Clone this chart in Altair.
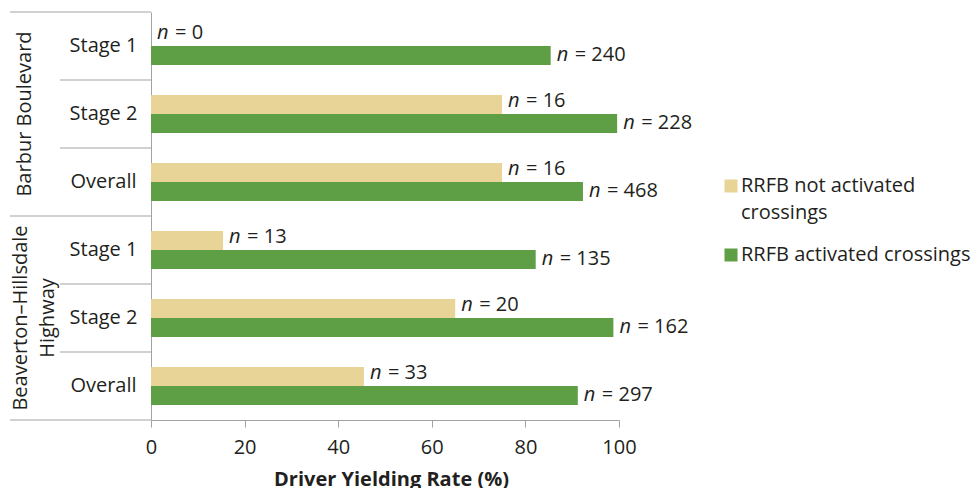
import altair as alt
import pandas as pd

# ---- data ----
groups = ["Barbur Boulevard", "Barbur Boulevard", "Barbur Boulevard",
          "Beaverton–Hillsdale Highway", "Beaverton–Hillsdale Highway", "Beaverton–Hillsdale Highway"]
stages = ["Stage 1", "Stage 2", "Overall", "Stage 1", "Stage 2", "Overall"]
series = ["RRFB not activated crossings", "RRFB activated crossings"]
not_activated = [0, 75, 75, 15.4, 65, 45.5]
activated = [85.4, 99.6, 92.3, 82.2, 98.8, 91.2]
n_not = [0, 16, 16, 13, 20, 33]
n_act = [240, 228, 468, 135, 162, 297]
group_labels = [["Barbur Boulevard"], ["Beaverton–Hillsdale", "Highway"]]
x_ticks = [0, 20, 40, 60, 80, 100]

TAN = "#e8d496"
GREEN = "#5e9f45"
GRID = "#a3a3a3"
TXT = "#231f20"
FONT = "Open Sans"
FS = 20

rows = [f"{g}|{s}" for g, s in zip(groups, stages)]

recs = []
for i, r in enumerate(rows):
    recs.append({"row": r, "series": series[0], "value": not_activated[i], "lab": f"= {n_not[i]}"})
    recs.append({"row": r, "series": series[1], "value": activated[i], "lab": f"= {n_act[i]}"})
df = pd.DataFrame(recs)

y_enc = alt.Y("row:N", sort=rows, title=None,
              scale=alt.Scale(paddingInner=0, paddingOuter=0),
              axis=alt.Axis(labelExpr="split(datum.value, '|')[1]", ticks=False,
                            domainColor=GRID, labelFont=FONT, labelFontSize=FS,
                            labelColor=TXT, labelAlign="center", labelPadding=48))
yoff = alt.YOffset("series:N", sort=series,
                   scale=alt.Scale(paddingInner=0, paddingOuter=0.789))
x_enc = alt.X("value:Q", title="Driver Yielding Rate (%)",
              scale=alt.Scale(domain=[0, 100], nice=False),
              axis=alt.Axis(values=x_ticks, grid=False, tickSize=7, tickColor=GRID,
                            domainColor=GRID, labelFont=FONT, labelFontSize=FS,
                            labelColor=TXT, labelPadding=10, labelFlush=False,
                            titleFont=FONT, titleFontSize=FS, titleFontWeight="bold",
                            titleColor=TXT, titlePadding=12, titleX=240))

base = alt.Chart(df)
bars = base.mark_bar().encode(
    x=x_enc, y=y_enc, yOffset=yoff,
    color=alt.Color("series:N", sort=series,
                    scale=alt.Scale(domain=series, range=[TAN, GREEN]),
                    legend=alt.Legend(title=None, orient="none", legendX=570, legendY=164,
                                      symbolType="square", symbolSize=169,
                                      symbolStrokeWidth=0, labelFont=FONT,
                                      labelFontSize=FS, labelColor=TXT, labelOffset=0,
                                      labelLimit=400, rowPadding=22, padding=0,
                                      labelExpr="datum.label == 'RRFB not activated crossings' ? ['RRFB not activated', 'crossings'] : datum.label")),
)

def labels(s, dy):
    common = dict(align="left", baseline="middle", font=FONT, fontSize=FS, color=TXT, dy=dy)
    b = base.transform_filter(alt.datum.series == s)
    enc = dict(x="value:Q", y=alt.Y("row:N", sort=rows),
               yOffset=alt.YOffset("series:N", sort=series))
    n_txt = b.mark_text(dx=6, fontStyle="italic", **common).encode(text=alt.value("n"), **enc)
    eq_txt = b.mark_text(dx=24, **common).encode(text="lab:N", **enc)
    return [n_txt, eq_txt]

txt_layers = labels(series[0], -3) + labels(series[1], -1)

# separator lines of the category axis
long_top = pd.DataFrame({"row": [rows[0], rows[3]]})
long_bot = pd.DataFrame({"row": [rows[5]]})
short_top = pd.DataFrame({"row": [rows[1], rows[2], rows[4], rows[5]]})

def sep(data, x0, band):
    return alt.Chart(data).mark_rule(color=GRID, strokeWidth=1).encode(
        y=alt.Y("row:N", sort=rows, bandPosition=band),
        x=alt.value(x0), x2=alt.value(0))

seps = [sep(long_top, -141, 0), sep(long_bot, -141, 1), sep(short_top, -91, 0)]

# group labels (rotated)
g1 = alt.Chart(pd.DataFrame({"row": [rows[1]], "t": [group_labels[0][0]]})).mark_text(
    angle=270, align="center", baseline="middle", font=FONT, fontSize=FS, color=TXT).encode(
    y=alt.Y("row:N", sort=rows), x=alt.value(-126), text="t:N")
g2 = alt.Chart(pd.DataFrame({"row": [rows[4]]})).mark_text(
    angle=270, align="center", baseline="middle", font=FONT, fontSize=FS, color=TXT,
    lineHeight=26.5).encode(
    y=alt.Y("row:N", sort=rows), x=alt.value(-130), text=alt.value(group_labels[1]))

chart = alt.layer(bars, *txt_layers, *seps, g1, g2).properties(
    width=468, height=408,
    background="white",
    autosize=alt.AutoSizeParams(type="none"),
    padding={"left": 151, "top": 12, "right": 361, "bottom": 68},
).configure(view=alt.ViewConfig(stroke=None),
            style={"guide-label": {"lineHeight": 27}})

chart.save("out.html", embed_options={"renderer": "svg", "actions": False})
